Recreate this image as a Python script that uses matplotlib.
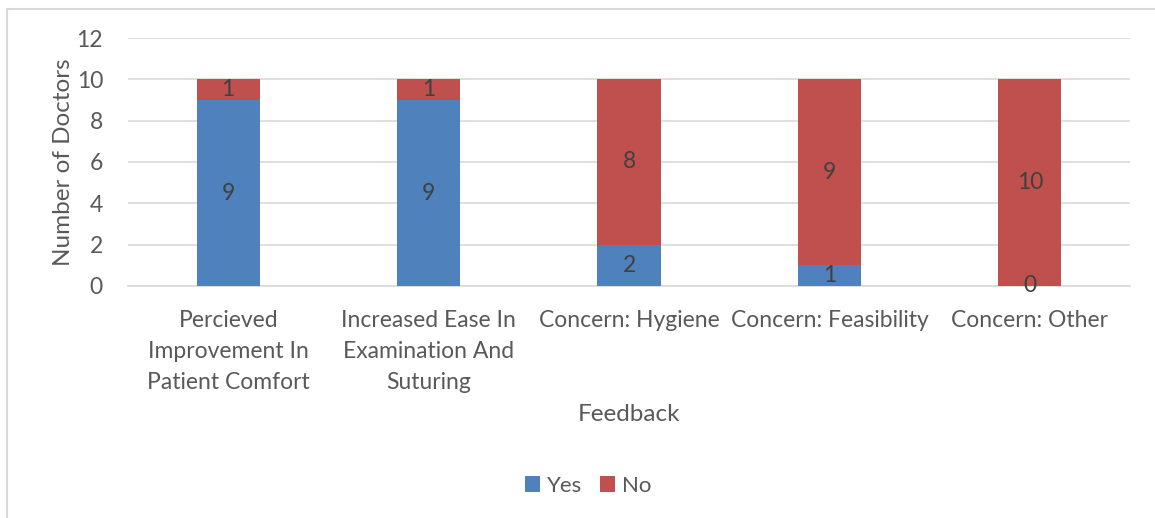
import matplotlib.pyplot as plt
from matplotlib.patches import Rectangle

categories = ['Percieved\nImprovement In\nPatient Comfort',
              'Increased Ease In\nExamination And\nSuturing',
              'Concern: Hygiene', 'Concern: Feasibility', 'Concern: Other']
yes = [9, 9, 2, 1, 0]
no = [1, 1, 8, 9, 10]

plt.rcParams['font.family'] = ['Lato', 'DejaVu Sans']
text_col = '#595959'
blue = '#4f81bd'
red = '#c0504d'

fig = plt.figure(figsize=(11.55, 5.18), dpi=100)
ax = fig.add_axes([128 / 1155, 1 - 286 / 518, 1002 / 1155, 248 / 518])

# outer chart border
fig.patches.append(Rectangle((7 / 1155, -0.05), 1.2, 1 - 9 / 518 + 0.05,
                             transform=fig.transFigure, fill=False,
                             edgecolor='#d9d9d9', linewidth=1.5))

x = range(len(categories))
b1 = ax.bar(x, yes, width=0.315, color=blue, label='Yes', zorder=3)
b2 = ax.bar(x, no, width=0.315, bottom=yes, color=red, label='No', zorder=3)
ax.bar_label(b1, label_type='center', fontsize=16.5, color='#404040', zorder=4)
ax.bar_label(b2, label_type='center', fontsize=16.5, color='#404040', zorder=4)

ax.set_xlim(-0.5, len(categories) - 0.5)
ax.set_ylim(0, 12)
ax.set_yticks(range(0, 13, 2))
ax.set_xticks(list(x))
ax.set_xticklabels(categories, linespacing=1.6)
ax.grid(axis='y', color='#d9d9d9', linewidth=1.2, zorder=0)
for s in ['top', 'right', 'left']:
    ax.spines[s].set_visible(False)
ax.spines['bottom'].set_color('#d9d9d9')
ax.spines['bottom'].set_linewidth(1.2)
ax.tick_params(length=0, labelsize=16.5, labelcolor=text_col)
ax.tick_params(axis='x', pad=17)
ax.tick_params(axis='y', pad=18)
ax.set_xlabel('Feedback', fontsize=17.5, color=text_col, labelpad=8)
ax.set_ylabel('Number of Doctors', fontsize=17.5, color=text_col, labelpad=2)

ax.legend(loc='center', bbox_to_anchor=(588 / 1155, 1 - 486 / 518),
          bbox_transform=fig.transFigure, ncol=2, frameon=False,
          fontsize=16, labelcolor=text_col, handlelength=0.7,
          handleheight=0.7, handletextpad=0.3, columnspacing=0.8)

fig.savefig('out.png', dpi=100)
